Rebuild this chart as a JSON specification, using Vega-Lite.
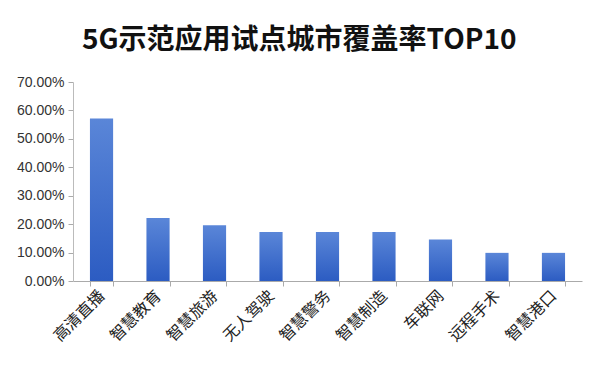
{
  "$schema": "https://vega.github.io/schema/vega-lite/v6.json",
  "width": 600,
  "height": 368,
  "autosize": {"type": "fit", "contains": "padding"},
  "padding": {"left": 16, "right": 18, "top": 27, "bottom": 24},
  "background": "white",
  "title": {
    "text": "5G示范应用试点城市覆盖率TOP10",
    "font": "Noto Sans CJK SC",
    "fontSize": 28,
    "fontWeight": "bold",
    "color": "#111111",
    "anchor": "middle",
    "frame": "bounds",
    "offset": 20
  },
  "data": {
    "values": [
      {"app": "高清直播", "rate": 0.572},
      {"app": "智慧教育", "rate": 0.222},
      {"app": "智慧旅游", "rate": 0.196},
      {"app": "无人驾驶", "rate": 0.172},
      {"app": "智慧警务", "rate": 0.172},
      {"app": "智慧制造", "rate": 0.172},
      {"app": "车联网", "rate": 0.146},
      {"app": "远程手术", "rate": 0.099},
      {"app": "智慧港口", "rate": 0.099}
    ]
  },
  "mark": {
    "type": "bar",
    "color": {
      "gradient": "linear",
      "x1": 0, "y1": 0, "x2": 0, "y2": 1,
      "stops": [
        {"offset": 0, "color": "#5a86d8"},
        {"offset": 1, "color": "#2c5cc2"}
      ]
    }
  },
  "encoding": {
    "x": {
      "field": "app",
      "type": "nominal",
      "sort": null,
      "scale": {"paddingInner": 0.59, "paddingOuter": 0.3},
      "axis": {
        "title": null,
        "labelAngle": -45,
        "labelAlign": "right",
        "labelBaseline": "middle",
        "labelFont": "Noto Sans CJK SC",
        "labelFontSize": 16,
        "labelColor": "#222222",
        "labelPadding": 7,
        "domainColor": "#aaaaaa",
        "tickColor": "#aaaaaa",
        "tickBand": "extent",
        "tickSize": 5
      }
    },
    "y": {
      "field": "rate",
      "type": "quantitative",
      "scale": {"domain": [0, 0.7]},
      "axis": {
        "title": null,
        "format": ".2%",
        "values": [0, 0.1, 0.2, 0.3, 0.4, 0.5, 0.6, 0.7],
        "labelOverlap": false,
        "labelFlush": false,
        "grid": false,
        "labelFont": "Liberation Sans",
        "labelFontSize": 14,
        "labelColor": "#333333",
        "domainColor": "#bbbbbb",
        "tickColor": "#aaaaaa",
        "tickSize": 5,
        "labelPadding": 4
      }
    }
  },
  "config": {"view": {"stroke": null}}
}
